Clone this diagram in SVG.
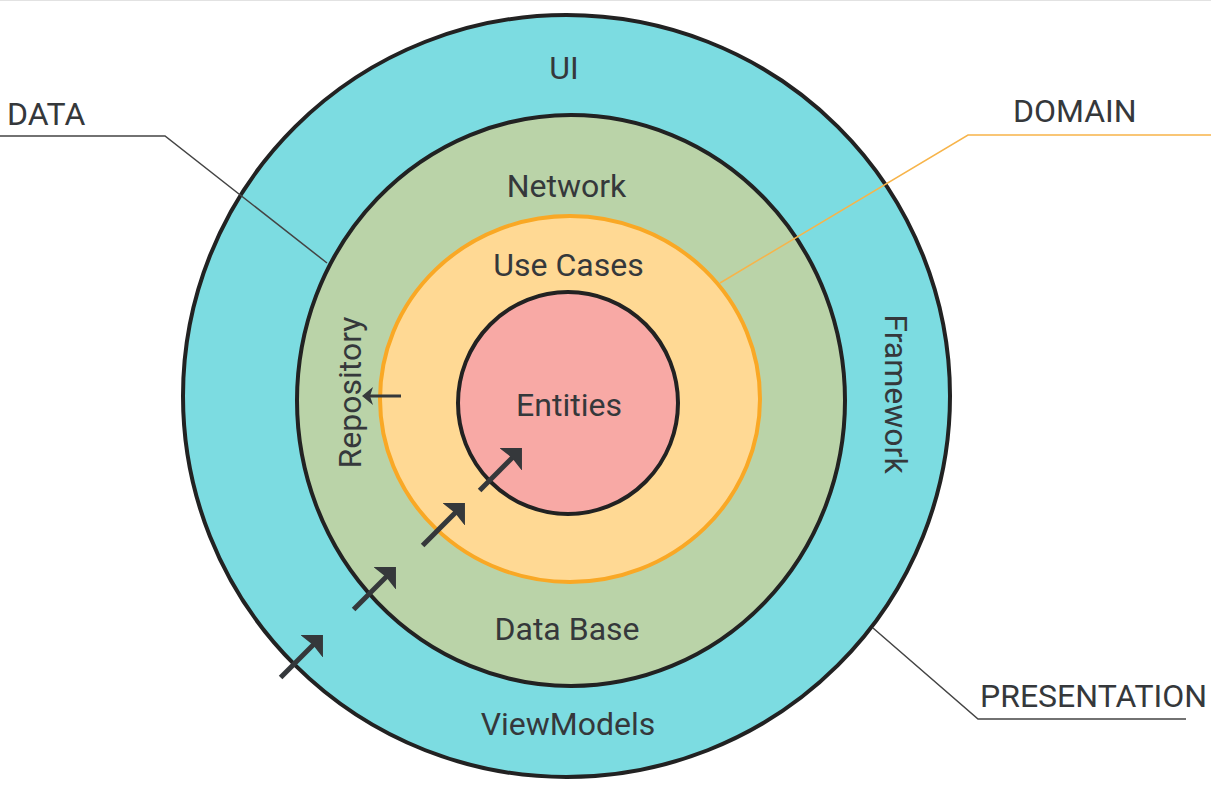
<svg xmlns="http://www.w3.org/2000/svg" width="1211" height="794" viewBox="0 0 1211 794">
  <style>
    .lbl { font-family: Roboto, "Liberation Sans", sans-serif; font-size: 32px; fill: #35383b; text-anchor: middle; }
    .side { font-family: Roboto, "Liberation Sans", sans-serif; font-size: 32px; fill: #35383b; }
    .ring { stroke: #222222; stroke-width: 4; }
    .leader { fill: none; stroke: #444444; stroke-width: 1.5; }
    .arrow { stroke: #35383b; stroke-width: 5; fill: none; }
    .arrow-s { stroke: #35383b; stroke-width: 3.2; fill: none; }
  </style>
  <defs>
    <marker id="headBig" viewBox="0 0 16 32" refX="8" refY="16" markerWidth="16" markerHeight="32" markerUnits="userSpaceOnUse" orient="auto">
      <path d="M16,16 L0,0 L2,16 L0,32 Z" fill="#35383b"/>
    </marker>
    <marker id="headSmall" viewBox="0 0 11 18" refX="6" refY="9" markerWidth="11" markerHeight="18" markerUnits="userSpaceOnUse" orient="auto">
      <path d="M11,9 L0,0 L3,9 L0,18 Z" fill="#35383b"/>
    </marker>
  </defs>
  <rect x="0" y="0" width="1211" height="794" fill="#ffffff"/>
  <line x1="0" y1="0.5" x2="1211" y2="0.5" stroke="#e2e2e2" stroke-width="1"/>

  <g id="presentation">
    <ellipse class="ring" cx="566.5" cy="396" rx="383.5" ry="381" fill="#7cdce1"/>
    <text class="lbl" x="564" y="79">UI</text>
    <text class="lbl" x="568" y="735">ViewModels</text>
    <text class="side" transform="translate(885,394) rotate(90)" text-anchor="middle">Framework</text>
  </g>
  <g id="data">
    <ellipse class="ring" cx="571" cy="400.5" rx="274" ry="285.5" fill="#bad3a8"/>
    <text class="lbl" x="566.5" y="197">Network</text>
    <text class="lbl" x="567" y="640">Data Base</text>
    <text class="side" transform="translate(361,392.5) rotate(-90)" text-anchor="middle">Repository</text>
  </g>
  <g id="domain">
    <ellipse cx="570" cy="399" rx="190" ry="183" fill="#ffd994" stroke="#f9a825" stroke-width="4"/>
    <text class="lbl" x="568.5" y="276">Use Cases</text>
  </g>
  <g id="entities">
    <ellipse class="ring" cx="568" cy="403" rx="110" ry="111" fill="#f8a9a5"/>
    <text class="lbl" x="569" y="416">Entities</text>
  </g>

  <g id="labels">
    <text class="side" x="7" y="125" font-size="30">DATA</text>
    <text class="side" x="1013" y="122">DOMAIN</text>
    <text class="side" x="980" y="707">PRESENTATION</text>
  </g>

  <g id="connectors">
    <polyline class="leader" points="0,136 165,136 327,263"/>
    <polyline class="leader" points="720,283 968,135 1211,135" style="stroke:#f7b44a"/>
    <polyline class="leader" points="873,628 978,719 1186,719"/>
    <line class="arrow-s" x1="401" y1="396" x2="367" y2="396" marker-end="url(#headSmall)"/>
    <line class="arrow" x1="479.6" y1="490.4" x2="516.3" y2="453.7" marker-end="url(#headBig)"/>
    <line class="arrow" x1="422.6" y1="545.4" x2="459.3" y2="508.7" marker-end="url(#headBig)"/>
    <line class="arrow" x1="353.6" y1="609.4" x2="390.3" y2="572.7" marker-end="url(#headBig)"/>
    <line class="arrow" x1="280.6" y1="677.4" x2="317.3" y2="640.7" marker-end="url(#headBig)"/>
  </g>
</svg>
